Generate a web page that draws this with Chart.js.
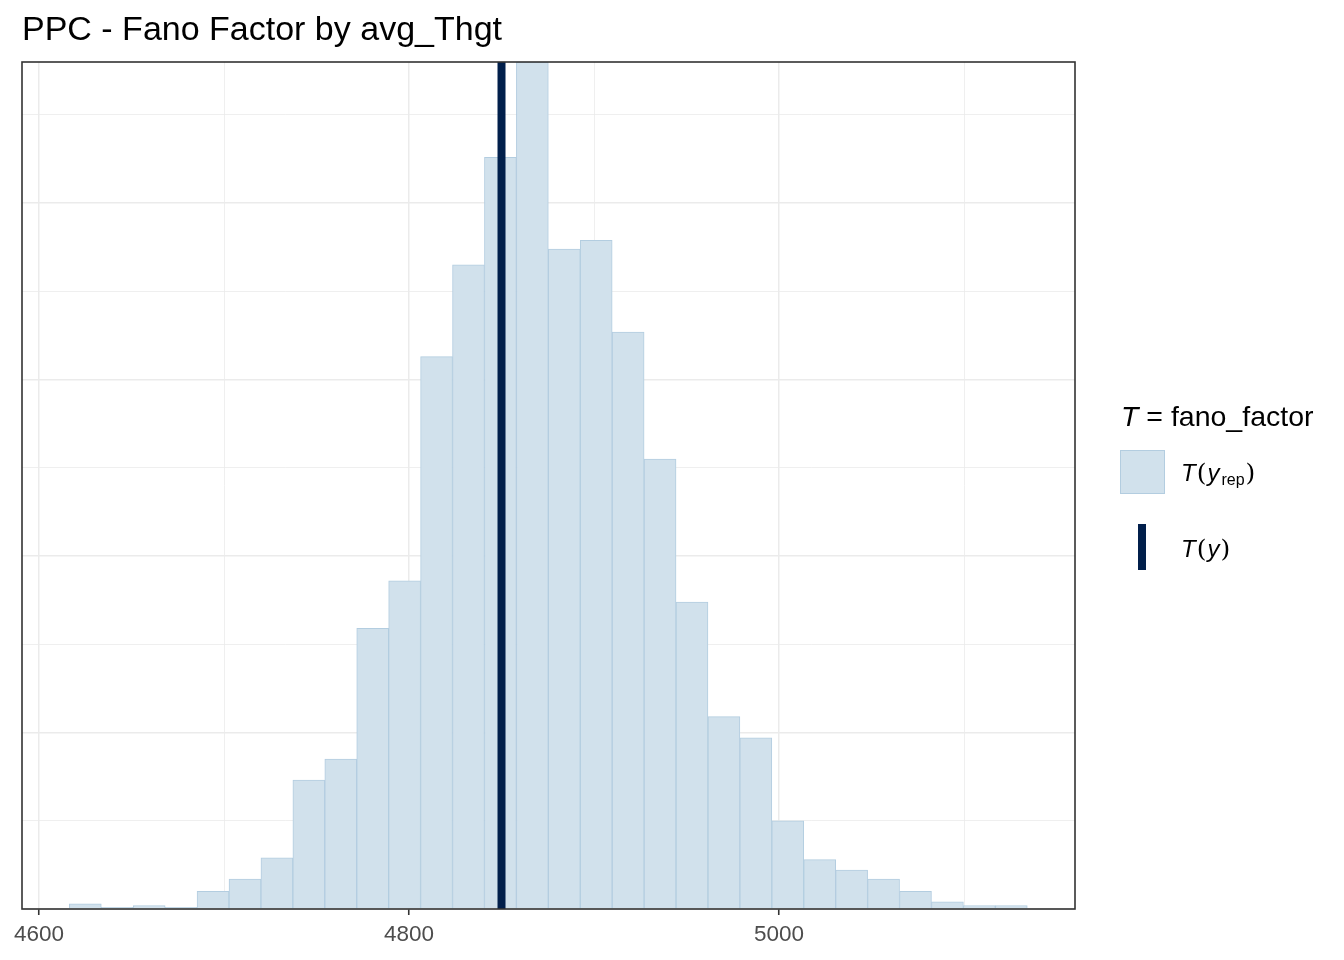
<!DOCTYPE html>
<html>
<head>
<meta charset="utf-8">
<title>PPC - Fano Factor by avg_Thgt</title>
<script src="https://cdn.jsdelivr.net/npm/chart.js@4.4.1/dist/chart.umd.min.js"></script>
<style>
    html, body { margin: 0; padding: 0; background: #ffffff; }
    #wrap { position: relative; width: 1344px; height: 960px; }
    #legend { position: absolute; left: 0; top: 0; font-family: "Liberation Sans", Arial, sans-serif; color: #000; }
    .lg { position: absolute; white-space: nowrap; line-height: 1; }
    .key-hist { position: absolute; left: 1120px; top: 450px; width: 43px; height: 42px; background: #d1e1ec; border: 1px solid #b3cde0; }
    .key-line { position: absolute; left: 1138px; top: 524px; width: 8px; height: 46px; background: #011f4b; }
    .sub { font-size: 16px; position: relative; top: 4px; margin-left: 2px; }
    .par { font-family: "DejaVu Serif", "Liberation Serif", serif; font-size: 25px; margin: 0 1px; }
</style>
</head>
<body>
<div id="wrap">
    <canvas id="ppcChart" width="1344" height="960"></canvas>
    <div id="legend">
        <div class="lg" style="left:1121px; top:402px; font-size:28.5px;"><i>T</i> = fano_factor</div>
        <div class="key-hist"></div>
        <div class="lg" style="left:1181px; top:460px; font-size:24px;"><i>T</i><span class="par">(</span><i>y</i><span class="sub">rep</span><span class="par">)</span></div>
        <div class="key-line"></div>
        <div class="lg" style="left:1181px; top:536px; font-size:24px;"><i>T</i><span class="par">(</span><i>y</i><span class="par">)</span></div>
    </div>
</div>
<script>
// --- DATA ---
// histogram of T(y_rep) over 4000 draws, 30 bins
const binCenters = [
    4625.03, 4642.29, 4659.55, 4676.81, 4694.07, 4711.33, 4728.59, 4745.85, 4763.11, 4780.37,
    4797.63, 4814.89, 4832.15, 4849.41, 4866.67, 4883.93, 4901.19, 4918.45, 4935.71, 4952.97,
    4970.23, 4987.49, 5004.75, 5022.01, 5039.27, 5056.53, 5073.79, 5091.05, 5108.31, 5125.57
];
const binCounts = [
    3, 1, 2, 1, 10, 17, 29, 73, 85, 159,
    186, 313, 365, 426, 480, 374, 379, 327, 255, 174,
    109, 97, 50, 28, 22, 17, 10, 4, 2, 2
];
const observedT = 4850;           // T(y)
const xTickValues = [4600, 4800, 5000];
const xMin = 4590.8;
const xMax = 5160.0;

// --- COLOURS ---
const fillColor = '#d1e1ec';
const edgeColor = '#b3cde0';
const lineColor = '#011f4b';
const gridColor = '#ebebeb';
const frameColor = '#333333';

const yTop = Math.max(...binCounts);

// panel border like theme_bw
const panelBorder = {
    id: 'panelBorder',
    afterDraw(chart) {
        const { ctx, chartArea: a } = chart;
        ctx.save();
        ctx.strokeStyle = frameColor;
        ctx.lineWidth = 1.6;
        ctx.strokeRect(a.left, a.top, a.right - a.left, a.bottom - a.top);
        ctx.restore();
    }
};

new Chart(document.getElementById('ppcChart'), {
    type: 'bar',
    data: {
        datasets: [
            {
                type: 'line',
                label: 'T(y)',
                data: [{ x: observedT, y: 0 }, { x: observedT, y: yTop }],
                borderColor: lineColor,
                borderWidth: 8,
                borderCapStyle: 'butt',
                pointRadius: 0,
                order: 1
            },
            {
                type: 'bar',
                label: 'T(yrep)',
                data: binCenters.map((x, i) => ({ x: x, y: binCounts[i] })),
                backgroundColor: fillColor,
                borderColor: edgeColor,
                borderWidth: 1,
                barPercentage: 1,
                categoryPercentage: 1,
                grouped: false,
                order: 2
            }
        ]
    },
    options: {
        responsive: false,
        animation: false,
        devicePixelRatio: 1,
        layout: { padding: { left: 22, right: 269, top: 0, bottom: 0 } },
        plugins: {
            legend: { display: false },
            tooltip: { enabled: false },
            title: {
                display: true,
                text: 'PPC - Fano Factor by avg_Thgt',
                align: 'start',
                color: '#000000',
                font: { family: "'Liberation Sans', Arial, sans-serif", size: 34, weight: 'normal' },
                padding: { top: 9.8, bottom: 11.4 }
            }
        },
        scales: {
            x: {
                type: 'linear',
                min: xMin,
                max: xMax,
                offset: false,
                border: { display: false },
                grid: {
                    offset: false,
                    color: gridColor,
                    lineWidth: c => (c.tick && c.tick.value % 200 === 0) ? 1.5 : 0.8,
                    drawTicks: true,
                    tickLength: 6,
                    tickColor: c => (c.tick && xTickValues.includes(c.tick.value)) ? frameColor : 'rgba(0,0,0,0)',
                    tickWidth: 1.6
                },
                ticks: {
                    stepSize: 100,
                    includeBounds: false,
                    autoSkip: false,
                    maxRotation: 0,
                    padding: 6,
                    color: '#4d4d4d',
                    font: { family: "'Liberation Sans', Arial, sans-serif", size: 22.5 },
                    callback: v => xTickValues.includes(v) ? String(v) : ''
                },
                afterFit: s => { s.height = 51; }
            },
            y: {
                min: 0,
                max: yTop,
                border: { display: false },
                grid: {
                    color: gridColor,
                    lineWidth: c => (c.tick && c.tick.value % 100 === 0) ? 1.5 : 0.8,
                    drawTicks: false
                },
                ticks: { display: false, stepSize: 50, includeBounds: false },
                afterFit: s => { s.width = 0; }
            }
        }
    },
    plugins: [panelBorder]
});
</script>
</body>
</html>
